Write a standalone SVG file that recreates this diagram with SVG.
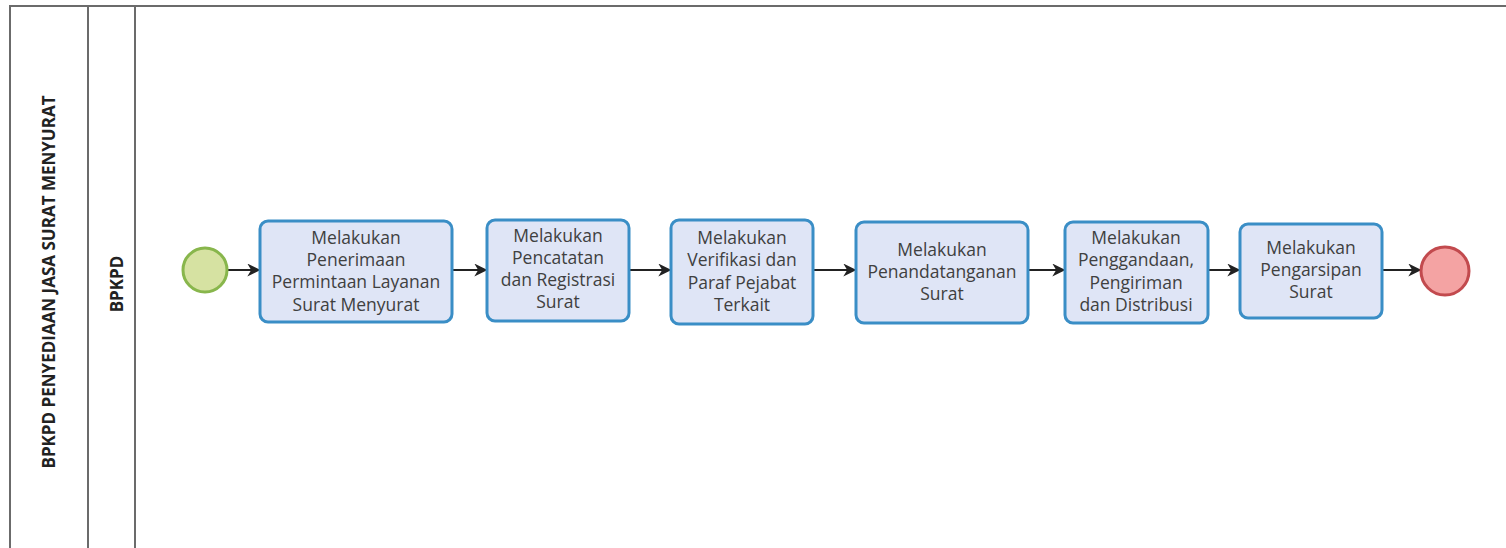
<svg xmlns="http://www.w3.org/2000/svg" width="1506" height="548" viewBox="0 0 1506 548">
<defs>
<style>
.lane{fill:none;stroke:#6b6b6b;stroke-width:2}
.task rect{fill:#dfe5f6;stroke:#3a8ec6;stroke-width:3}
.task text{font-family:"Open Sans","Noto Sans",sans-serif;font-size:17.5px;fill:#404040;text-anchor:middle}
.lbl{font-family:"Open Sans","Noto Sans",sans-serif;font-weight:bold;font-size:17px;fill:#222;text-anchor:middle}
.flow{fill:none;stroke:#222;stroke-width:2;marker-end:url(#ah)}
</style>
<marker id="ah" viewBox="0 0 10 10" refX="9" refY="5" markerWidth="13" markerHeight="13" markerUnits="userSpaceOnUse" orient="auto">
<path d="M0,0 L10,5 L0,10 L3,5 z" fill="#222"/>
</marker>
</defs>
<rect width="1506" height="548" fill="#fff"/>
<g id="pool">
<path class="lane" d="M1506,6 H10 V548 M88,6 V548 M135,6 V548"/>
<text class="lbl" transform="translate(55,282) rotate(-90)">BPKPD PENYEDIAAN JASA SURAT MENYURAT</text>
<text class="lbl" transform="translate(123,284) rotate(-90)">BPKPD</text>
</g>
<g id="connectors">
<path class="flow" d="M228,270 H259"/>
<path class="flow" d="M453,270 H486"/>
<path class="flow" d="M630,270 H670"/>
<path class="flow" d="M814,270 H855"/>
<path class="flow" d="M1029,270 H1064"/>
<path class="flow" d="M1209,270 H1239"/>
<path class="flow" d="M1383,270 H1420"/>
</g>
<g id="start"><circle cx="205" cy="270" r="22" fill="#d6e2a2" stroke="#88b64c" stroke-width="3"/></g>
<g id="task1" class="task"><rect x="260" y="221" width="192" height="101" rx="8"/>
<text x="356" y="244">Melakukan</text><text x="356" y="266">Penerimaan</text><text x="356" y="288">Permintaan Layanan</text><text x="356" y="311">Surat Menyurat</text></g>
<g id="task2" class="task"><rect x="487" y="220" width="142" height="101" rx="8"/>
<text x="558" y="242">Melakukan</text><text x="558" y="264">Pencatatan</text><text x="558" y="286">dan Registrasi</text><text x="558" y="308">Surat</text></g>
<g id="task3" class="task"><rect x="671" y="220" width="142" height="104" rx="8"/>
<text x="742" y="244">Melakukan</text><text x="742" y="266">Verifikasi dan</text><text x="742" y="289">Paraf Pejabat</text><text x="742" y="311">Terkait</text></g>
<g id="task4" class="task"><rect x="856" y="222" width="172" height="101" rx="8"/>
<text x="942" y="256">Melakukan</text><text x="942" y="278">Penandatanganan</text><text x="942" y="300">Surat</text></g>
<g id="task5" class="task"><rect x="1065" y="222" width="143" height="101" rx="8"/>
<text x="1136" y="244">Melakukan</text><text x="1136" y="266">Penggandaan,</text><text x="1136" y="289">Pengiriman</text><text x="1136" y="311">dan Distribusi</text></g>
<g id="task6" class="task"><rect x="1240" y="224" width="142" height="94" rx="8"/>
<text x="1311" y="254">Melakukan</text><text x="1311" y="276">Pengarsipan</text><text x="1311" y="298">Surat</text></g>
<g id="end"><circle cx="1445" cy="271" r="24" fill="#f4a3a3" stroke="#c24a4e" stroke-width="3"/></g>
</svg>
